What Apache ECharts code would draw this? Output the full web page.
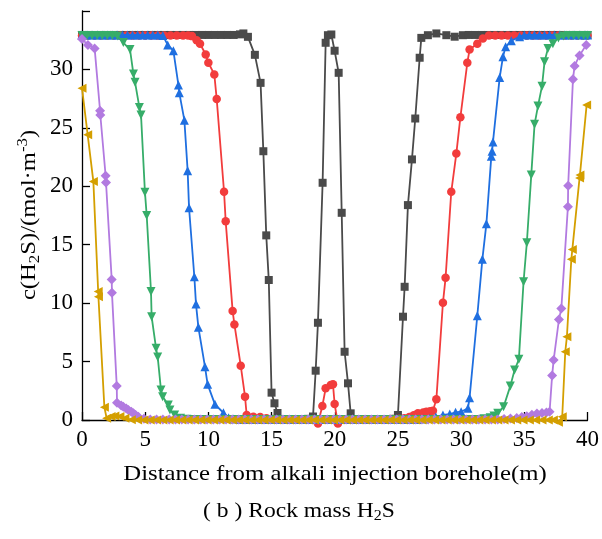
<!DOCTYPE html>
<html>
<head>
<meta charset="utf-8">
<script src="https://cdn.jsdelivr.net/npm/echarts@6/dist/echarts.min.js"></script>
<style>
  html, body { margin: 0; padding: 0; background: #fff; }
  #chart { width: 602px; height: 539px; }
</style>
</head>
<body>
<div id="chart"></div>
<script>
// H2S concentration along the line between the alkali injection boreholes, six time steps.
const xTicks = [0, 5, 10, 15, 20, 25, 30, 35, 40];
const yTicks = [0, 5, 10, 15, 20, 25, 30, 35];

const seriesNames = ['t1', 't2', 't3', 't4', 't5', 't6'];

const blackData = [
  [0,32.95],[0.5,32.95],[1,32.95],[1.5,32.95],[2,32.95],[2.5,32.95],[3,32.95],[3.5,32.95],[4,32.95],[4.5,32.95],
  [5,32.95],[5.5,32.95],[6,32.95],[6.5,32.95],[7,32.95],[7.5,32.95],[8,32.95],[8.5,32.95],[9,32.95],[9.5,32.95],
  [10,32.95],[10.5,32.95],[11,32.95],[11.5,32.95],[12,32.95],[12.5,33.0],
  [12.77,33.08],[13.13,32.79],[13.68,31.25],[14.13,28.85],[14.35,23.0],[14.58,15.8],[14.78,11.98],[15.0,2.34],[15.23,1.43],[15.47,0.6],
  [15.9,0.05],[16.4,0.05],[16.9,0.05],[17.4,0.05],[17.9,0.1],[18.28,0.3],
  [18.49,4.22],[18.67,8.32],[19.04,20.3],[19.28,32.28],[19.46,32.93],[19.73,32.99],[19.99,31.6],[20.31,29.71],[20.55,17.73],[20.78,5.84],[21.05,3.14],[21.26,0.57],
  [21.7,0.05],[22.2,0.05],[22.7,0.05],[23.2,0.05],[23.7,0.05],[24.2,0.05],[24.6,0.1],[25.0,0.43],
  [25.4,8.84],[25.53,11.4],[25.79,18.39],[26.11,22.3],[26.37,25.8],[26.72,31.0],[26.85,32.7],[27.37,32.93],[28.04,33.08],[28.83,32.93],[29.49,32.8],[30.14,32.93],
  [30.6,32.95],[31.1,32.95],[31.6,32.95],[32.1,32.95],[32.6,32.95],[33.1,32.95],[33.6,32.95],[34.1,32.95],[34.6,32.95],[35.1,32.95],
  [35.6,32.95],[36.1,32.95],[36.6,32.95],[37.1,32.95],[37.6,32.95],[38.1,32.95],[38.6,32.95],[39.1,32.95],[39.6,32.95],[40,32.95]
];

const redData = [
  [0,32.9],[0.5,32.9],[1,32.9],[1.5,32.9],[2,32.9],[2.5,32.9],[3,32.9],[3.5,32.9],[4,32.9],[4.5,32.9],
  [5,32.9],[5.5,32.9],[6,32.9],[6.5,32.9],[7,32.9],[7.5,32.9],[8,32.9],[8.4,32.9],[8.7,32.85],
  [9.07,32.5],[9.34,32.2],[9.79,31.28],[10.0,30.57],[10.47,29.57],[10.66,27.46],[11.24,19.53],[11.37,17.0],[11.92,9.32],[12.06,8.18],[12.56,4.65],[12.9,2.0],[13.03,0.43],
  [13.56,0.28],[14.1,0.25],[14.6,0.15],[15.1,0.08],[15.6,0.05],[16.1,0.05],[16.6,0.05],[17.1,0.05],[17.6,0.05],[18.1,0.05],[18.4,0.0],
  [18.67,-0.3],[19.02,1.2],[19.28,2.71],[19.68,2.99],[19.86,3.05],[19.99,1.37],[20.25,-0.3],
  [20.6,0.05],[21.1,0.05],[21.6,0.05],[22.1,0.05],[22.6,0.05],[23.1,0.05],[23.6,0.05],[24.1,0.05],[24.6,0.08],[25.1,0.1],[25.5,0.15],[25.9,0.25],[26.25,0.4],
  [26.58,0.57],[27.0,0.65],[27.25,0.71],[27.55,0.75],[27.77,0.8],[28.04,1.77],[28.56,10.03],[28.77,12.17],[29.22,19.53],[29.62,22.8],[29.94,25.9],[30.49,30.57],[30.67,31.7],[31.28,32.2],[31.72,32.65],
  [32.2,32.9],[32.7,32.9],[33.2,32.9],[33.7,32.9],[34.2,32.9],[34.7,32.9],[35.2,32.9],[35.7,32.9],[36.2,32.9],[36.7,32.9],
  [37.2,32.9],[37.7,32.9],[38.2,32.9],[38.7,32.9],[39.2,32.9],[39.6,32.9],[40,32.9]
];

const blueData = [
  [0,32.95],[0.4,32.95],[0.8,32.95],[1.2,32.95],[1.6,32.95],[2,32.95],[2.4,32.95],[2.8,32.95],[3.2,32.95],[3.6,32.95],
  [4,32.95],[4.4,32.95],[4.8,32.95],[5.2,32.95],[5.6,32.95],[6,32.95],[6.4,32.9],
  [6.78,32.1],[7.23,31.6],[7.63,28.66],[7.7,28.0],[8.1,25.66],[8.36,21.33],[8.47,18.16],[8.89,12.26],[9.02,9.92],[9.21,7.93],[9.73,4.56],[9.94,3.05],[10.52,1.34],[11.19,0.62],
  [11.6,0.2],[12.0,0.08],[12.5,0.05],[13,0.05],[13.5,0.05],[14,0.05],[14.5,0.05],[15,0.05],[15.5,0.05],[16,0.05],[16.5,0.05],[17,0.05],[17.5,0.05],[18,0.05],
  [18.5,0.05],[19,0.05],[19.5,0.05],[20,0.05],[20.5,0.05],[21,0.05],[21.5,0.05],[22,0.05],[22.5,0.05],[23,0.05],[23.5,0.05],[24,0.05],[24.5,0.05],[25,0.05],
  [25.5,0.05],[26,0.05],[26.5,0.05],[27,0.08],[27.5,0.12],[28.0,0.25],
  [28.56,0.43],[29.1,0.51],[29.56,0.66],[30.0,0.71],[30.54,1.0],[30.67,1.91],[31.28,8.92],[31.68,13.75],[32.0,16.8],[32.39,22.58],[32.45,23.0],[32.52,23.8],[33.05,29.3],[33.31,31.08],[33.52,31.94],[33.97,32.45],[34.63,32.8],
  [35.0,32.95],[35.4,32.95],[35.8,32.95],[36.2,32.95],[36.6,32.95],[37.0,32.95],[37.4,32.95],[37.8,32.95],[38.2,32.95],[38.6,32.95],[39.0,32.95],[39.4,32.95],[39.8,32.95],[40,32.95]
];

const greenData = [
  [0,32.9],[0.4,32.9],[0.8,32.9],[1.2,32.9],[1.6,32.9],[2,32.9],[2.4,32.9],[2.8,32.85],
  [3.27,32.3],[3.8,31.7],[4.07,29.6],[4.2,28.9],[4.54,26.75],[4.67,26.1],[4.98,19.5],[5.12,17.5],[5.46,11.0],[5.51,8.84],[5.86,6.13],[5.99,5.4],[6.25,2.57],[6.38,2.0],[6.83,1.28],[6.96,0.86],[7.33,0.43],
  [7.8,0.15],[8.3,0.06],[8.8,0.05],[9.3,0.05],[9.8,0.05],[10.3,0.05],[10.8,0.05],[11.3,0.05],[11.8,0.05],[12.3,0.05],[12.8,0.05],[13.3,0.05],[13.8,0.05],[14.3,0.05],
  [14.8,0.05],[15.3,0.05],[15.8,0.05],[16.3,0.05],[16.8,0.05],[17.3,0.05],[17.8,0.05],[18.3,0.05],[18.8,0.05],[19.3,0.05],[19.8,0.05],[20.3,0.05],[20.8,0.05],[21.3,0.05],
  [21.8,0.05],[22.3,0.05],[22.8,0.05],[23.3,0.05],[23.8,0.05],[24.3,0.05],[24.8,0.05],[25.3,0.05],[25.8,0.05],[26.3,0.05],[26.8,0.05],[27.3,0.05],[27.8,0.05],[28.3,0.05],
  [28.8,0.05],[29.3,0.05],[29.8,0.05],[30.3,0.05],[30.8,0.05],[31.3,0.05],[31.8,0.1],[32.3,0.2],[32.6,0.35],
  [32.9,0.57],[33.36,1.14],[33.89,2.9],[34.23,4.28],[34.57,5.19],[34.94,11.83],[35.2,15.17],[35.55,20.96],[35.81,25.3],[36.08,26.86],[36.4,28.57],[36.6,30.65],[36.87,31.8],[37.26,32.2],[37.7,32.7],
  [38.1,32.85],[38.5,32.9],[38.9,32.9],[39.3,32.9],[39.7,32.9],[40,32.9]
];

const purpleData = [
  [0,32.6],[0.47,32.1],[1.0,31.8],[1.43,26.46],[1.45,26.1],[1.87,20.9],[1.9,20.33],[2.35,12.03],[2.37,10.9],[2.75,2.9],[2.77,1.48],
  [3.1,1.25],[3.27,1.14],[3.5,0.98],[3.67,0.86],[3.9,0.7],[4.07,0.57],[4.25,0.42],[4.46,0.28],[4.9,0.1],
  [5.4,0.05],[5.9,0.05],[6.4,0.05],[6.9,0.05],[7.4,0.05],[7.9,0.05],[8.4,0.05],[8.9,0.05],[9.4,0.05],[9.9,0.05],[10.4,0.05],[10.9,0.05],[11.4,0.05],[11.9,0.05],
  [12.4,0.05],[12.9,0.05],[13.4,0.05],[13.9,0.05],[14.4,0.05],[14.9,0.05],[15.4,0.05],[15.9,0.05],[16.4,0.05],[16.9,0.05],[17.4,0.05],[17.9,0.05],[18.4,0.05],[18.9,0.05],
  [19.4,0.05],[19.9,0.05],[20.4,0.05],[20.9,0.05],[21.4,0.05],[21.9,0.05],[22.4,0.05],[22.9,0.05],[23.4,0.05],[23.9,0.05],[24.4,0.05],[24.9,0.05],[25.4,0.05],[25.9,0.05],
  [26.4,0.05],[26.9,0.05],[27.4,0.05],[27.9,0.05],[28.4,0.05],[28.9,0.05],[29.4,0.05],[29.9,0.05],[30.4,0.05],[30.9,0.05],[31.4,0.05],[31.9,0.05],[32.4,0.05],[32.9,0.05],
  [33.4,0.08],[33.9,0.12],[34.4,0.18],[34.8,0.25],[35.2,0.33],[35.6,0.45],[36.0,0.55],[36.4,0.6],[36.75,0.65],[37.0,0.71],
  [37.2,3.8],[37.32,5.13],[37.74,8.6],[37.93,9.55],[38.45,18.25],[38.47,20.04],[38.85,29.17],[38.98,30.3],[39.37,31.2],[39.9,32.1]
];

const goldData = [
  [0,28.4],[0.45,24.4],[0.9,20.4],[1.28,11.0],[1.3,10.55],[1.77,1.1],[1.95,0.15],
  [2.3,0.3],[2.6,0.35],[3.0,0.3],[3.4,0.15],[3.9,0.02],
  [4.4,0],[4.9,0],[5.4,0],[5.9,0],[6.4,0],[6.9,0],[7.4,0],[7.9,0],[8.4,0],[8.9,0],[9.4,0],[9.9,0],[10.4,0],[10.9,0],
  [11.4,0],[11.9,0],[12.4,0],[12.9,0],[13.4,0],[13.9,0],[14.4,0],[14.9,0],[15.4,0],[15.9,0],[16.4,0],[16.9,0],[17.4,0],[17.9,0],
  [18.4,0],[18.9,0],[19.4,0],[19.9,0],[20.4,0],[20.9,0],[21.4,0],[21.9,0],[22.4,0],[22.9,0],[23.4,0],[23.9,0],[24.4,0],[24.9,0],
  [25.4,0],[25.9,0],[26.4,0],[26.9,0],[27.4,0],[27.9,0],[28.4,0],[28.9,0],[29.4,0],[29.9,0],[30.4,0],[30.9,0],[31.4,0],[31.9,0],
  [32.4,0],[32.9,0],[33.4,0],[33.9,0],[34.4,0],[34.9,0],[35.4,0],[35.9,0],[36.4,0],[36.9,0],[37.3,0],[37.7,-0.2],
  [38.0,0.28],[38.24,5.84],[38.37,7.13],[38.72,13.75],[38.8,14.6],[39.37,20.7],[39.4,20.96],[39.93,26.95]
];

const palette = ['#4a4a4a', '#f23c3c', '#1f6fe0', '#36ad69', '#b27ae0', '#d49f00'];
const symbols = [
  { symbol: 'rect', size: 8, rotate: 0 },
  { symbol: 'circle', size: 8.5, rotate: 0 },
  { symbol: 'triangle', size: 9, rotate: 0 },
  { symbol: 'triangle', size: 9, rotate: 180 },
  { symbol: 'diamond', size: 10, rotate: 0 },
  { symbol: 'triangle', size: 9, rotate: 90 }
];
const dataSets = [blackData, redData, blueData, greenData, purpleData, goldData];

const serif = "'Times New Roman', 'Liberation Serif', serif";

const chart = echarts.init(document.getElementById('chart'), null, { renderer: 'canvas' });

chart.setOption({
  animation: false,
  backgroundColor: '#ffffff',
  grid: { left: 82, right: 14, top: 11, bottom: 119, containLabel: false },
  xAxis: {
    type: 'value',
    min: xTicks[0],
    max: xTicks[xTicks.length - 1],
    interval: 5,
    axisLine: { lineStyle: { color: '#000', width: 1.3 } },
    axisTick: { inside: true, length: 8, lineStyle: { color: '#000', width: 1.3 } },
    axisLabel: { fontFamily: serif, fontSize: 23, color: '#000', margin: 8 },
    splitLine: { show: false }
  },
  yAxis: {
    type: 'value',
    min: yTicks[0],
    max: yTicks[yTicks.length - 1],
    interval: 5,
    axisLine: { show: true, lineStyle: { color: '#000', width: 1.3 } },
    axisTick: { show: true, inside: true, length: 8, lineStyle: { color: '#000', width: 1.3 } },
    axisLabel: {
      fontFamily: serif, fontSize: 23, color: '#000', margin: 9,
      formatter: function (v) { return v === 35 ? '' : String(v); }
    },
    splitLine: { show: false }
  },
  graphic: [
    {
      // y-axis title, reading bottom to top
      type: 'text',
      x: 29,
      y: 215,
      rotation: Math.PI / 2,
      scaleX: 1.12,
      style: {
        text: '{t|c(H}{sub|2}{t|S)/(mol·m}{sup|-3}{t|)}',
        align: 'center',
        verticalAlign: 'middle',
        fill: '#000',
        rich: {
          t: { fontFamily: serif, fontSize: 22, lineHeight: 27, fill: '#000' },
          sub: { fontFamily: serif, fontSize: 15, lineHeight: 15, verticalAlign: 'bottom', fill: '#000' },
          sup: { fontFamily: serif, fontSize: 15, lineHeight: 15, verticalAlign: 'top', fill: '#000' }
        }
      }
    },
    {
      // x-axis title
      type: 'text',
      x: 335,
      y: 474,
      scaleX: 1.125,
      style: {
        text: 'Distance from alkali injection borehole(m)',
        align: 'center',
        verticalAlign: 'middle',
        fill: '#000',
        fontFamily: serif,
        fontSize: 22
      }
    },
    {
      // panel caption
      type: 'text',
      x: 299,
      y: 511,
      scaleX: 1.07,
      style: {
        text: '{t|( b ) Rock mass H}{s|2}{t|S}',
        align: 'center',
        verticalAlign: 'middle',
        fill: '#000',
        rich: {
          t: { fontFamily: serif, fontSize: 22, lineHeight: 26, fill: '#000' },
          s: { fontFamily: serif, fontSize: 15, lineHeight: 20, verticalAlign: 'bottom', fill: '#000' }
        }
      }
    }
  ],
  series: dataSets.map(function (d, i) {
    return {
      name: seriesNames[i],
      type: 'line',
      data: d,
      clip: false,
      symbol: symbols[i].symbol,
      symbolSize: symbols[i].size,
      symbolRotate: symbols[i].rotate,
      showAllSymbol: true,
      lineStyle: { color: palette[i], width: 1.8 },
      itemStyle: { color: palette[i], borderWidth: 0 },
      z: 2 + i
    };
  })
});
</script>
</body>
</html>
